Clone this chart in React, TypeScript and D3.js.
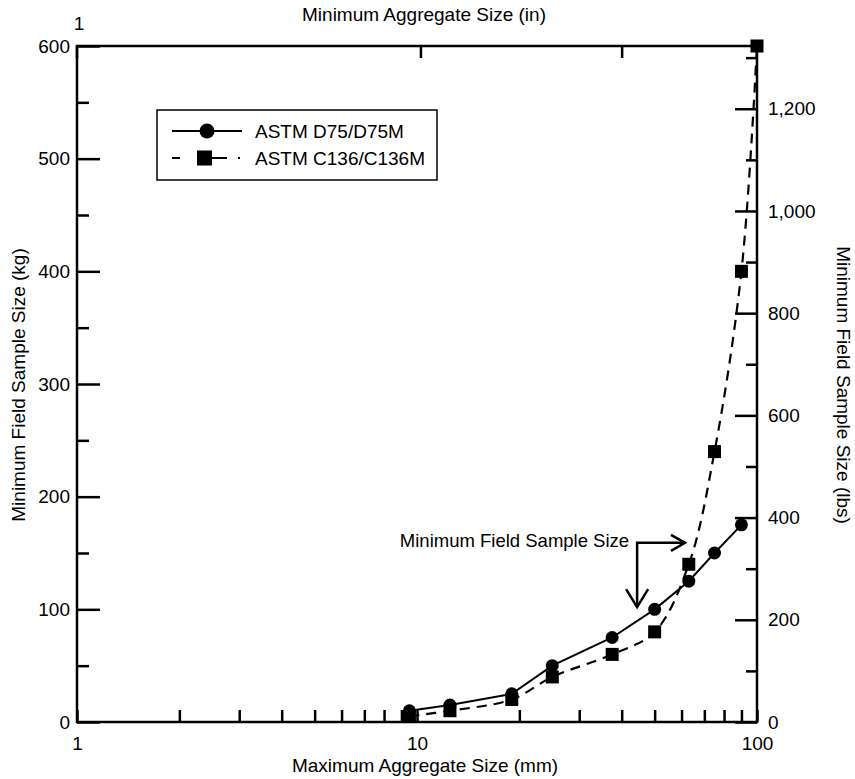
import React, { useEffect, useRef } from 'react'
import * as d3 from 'd3'

// aggregate sizes (mm) and minimum field sample sizes (kg)
const d75Sizes = [9.5, 12.5, 19, 25, 37.5, 50, 63, 75, 90]
const d75Mass = [10, 15, 25, 50, 75, 100, 125, 150, 175]
const c136Sizes = [9.5, 12.5, 19, 25, 37.5, 50, 63, 75, 90, 100]
const c136Mass = [5, 10, 20, 40, 60, 80, 140, 240, 400, 600]

const kgTicks = [0, 100, 200, 300, 400, 500, 600]
const kgMinor = [50, 150, 250, 350, 450, 550]
const lbTicks = [0, 200, 400, 600, 800, 1000, 1200]
const lbMinor = [100, 300, 500, 700, 900, 1100, 1300]
const mmTicks = [1, 10, 100]
const mmMinor = [2, 3, 4, 5, 6, 7, 8, 9, 20, 30, 40, 50, 60, 70, 80, 90]
const inTicks = [1, 2, 3]

const seriesNames = ['ASTM D75/D75M', 'ASTM C136/C136M']
const annotationText = 'Minimum Field Sample Size'
// arrow corner, down tip, right tip in data units (mm, kg)
const arrowCorner = [44.4, 159]
const arrowDown = [44.4, 102]
const arrowRight = [61.4, 159]

const W = 855
const H = 779
const margin = { top: 46, right: 98, bottom: 57, left: 77 }
const FONT = 'Liberation Sans, Arial, sans-serif'

export default function App() {
  const ref = useRef<SVGSVGElement>(null)

  useEffect(() => {
    const svg = d3.select(ref.current)
    svg.selectAll('*').remove()

    const x0 = margin.left
    const x1 = W - margin.right
    const y0 = H - margin.bottom
    const y1 = margin.top

    const x = d3.scaleLog().domain([1, 100]).range([x0, x1])
    const xIn = d3.scaleLog().domain([1, 100 / 25.4]).range([x0, x1])
    const y = d3.scaleLinear().domain([0, 600]).range([y0, y1])
    const yLb = d3.scaleLinear().domain([0, 600 * 2.20462]).range([y0, y1])

    const g = svg.append('g')
    const axisStyle = (sel: any) => {
      sel.select('.domain').remove()
      sel.selectAll('line').attr('stroke', '#000').attr('stroke-width', 2.5)
      sel.selectAll('text').attr('font-family', FONT).attr('font-size', 19).attr('fill', '#000')
    }

    // frame
    g.append('rect').attr('x', x0).attr('y', y1).attr('width', x1 - x0).attr('height', y0 - y1)
      .attr('fill', 'none').attr('stroke', '#000').attr('stroke-width', 2.5)

    // bottom axis
    g.append('g').attr('transform', `translate(0,${y0})`)
      .call(d3.axisTop(x).tickValues(mmTicks).tickSize(12).tickFormat(d3.format('d')))
      .call(axisStyle)
      .call(s => s.selectAll('text').attr('y', 15).attr('dy', '0.71em'))
    g.append('g').attr('transform', `translate(0,${y0})`)
      .call(d3.axisTop(x).tickValues(mmMinor).tickSize(12).tickFormat(() => ''))
      .call(axisStyle)

    // top axis (inches)
    const topAxis = g.append('g').attr('transform', `translate(0,${y1})`)
    inTicks.forEach(d => {
      topAxis.append('line')
        .attr('x1', xIn(d)).attr('x2', xIn(d)).attr('y1', 0).attr('y2', 12)
        .attr('stroke', '#000').attr('stroke-width', 2.5)
    })
    topAxis.append('text').text(String(inTicks[0])).attr('x', xIn(inTicks[0]) + 2).attr('y', -23)
      .attr('text-anchor', 'middle').attr('dominant-baseline', 'central')
      .attr('font-family', FONT).attr('font-size', 19)

    // left axis
    g.append('g').attr('transform', `translate(${x0},0)`)
      .call(d3.axisRight(y).tickValues(kgTicks).tickSize(23))
      .call(axisStyle)
      .call(s => s.selectAll('text').attr('x', -7).attr('text-anchor', 'end'))
    g.append('g').attr('transform', `translate(${x0},0)`)
      .call(d3.axisRight(y).tickValues(kgMinor).tickSize(12).tickFormat(() => ''))
      .call(axisStyle)

    // right axis (lbs)
    g.append('g').attr('transform', `translate(${x1},0)`)
      .call(d3.axisLeft(yLb).tickValues(lbTicks).tickSize(22).tickFormat(d3.format(',')))
      .call(axisStyle)
      .call(s => s.selectAll('text').attr('x', 11).attr('text-anchor', 'start'))
    g.append('g').attr('transform', `translate(${x1},0)`)
      .call(d3.axisLeft(yLb).tickValues(lbMinor.filter(v => yLb(v) > y1)).tickSize(11).tickFormat(() => ''))
      .call(axisStyle)

    // titles
    const title = (t: string, tx: number, ty: number, rot: number) =>
      svg.append('text').text(t).attr('font-family', FONT).attr('font-size', 19)
        .attr('text-anchor', 'middle').attr('dominant-baseline', 'central')
        .attr('transform', `translate(${tx},${ty}) rotate(${rot})`)
    title('Maximum Aggregate Size (mm)', 425, 765, 0)
    title('Minimum Aggregate Size (in)', 424, 14, 0)
    title('Minimum Field Sample Size (kg)', 18, 385, -90)
    title('Minimum Field Sample Size (lbs)', 843, 385, 90)

    // series
    const d75 = d75Sizes.map((s, i) => [s, d75Mass[i]] as [number, number])
    const c136 = c136Sizes.map((s, i) => [s, c136Mass[i]] as [number, number])

    const lineLin = d3.line<[number, number]>().x(d => x(d[0])).y(d => y(d[1]))
    const lineSmooth = d3.line<[number, number]>().x(d => x(d[0])).y(d => y(d[1])).curve(d3.curveCatmullRom)

    g.append('path').datum(c136).attr('d', lineSmooth).attr('fill', 'none')
      .attr('stroke', '#000').attr('stroke-width', 2.2).attr('stroke-dasharray', '10,7')
    g.append('path').datum(d75).attr('d', lineLin).attr('fill', 'none')
      .attr('stroke', '#000').attr('stroke-width', 2)

    g.selectAll('.sq').data(c136).join('rect')
      .attr('x', d => x(d[0]) - 6.5).attr('y', d => y(d[1]) - 6.5)
      .attr('width', 13).attr('height', 13).attr('fill', '#000')
    g.selectAll('.ci').data(d75).join('circle')
      .attr('cx', d => x(d[0])).attr('cy', d => y(d[1])).attr('r', 6.5).attr('fill', '#000')

    // legend
    const lg = svg.append('g').attr('transform', 'translate(157,110)')
    lg.append('rect').attr('width', 280).attr('height', 70).attr('fill', '#fff')
      .attr('stroke', '#000').attr('stroke-width', 1.5)
    seriesNames.forEach((name, i) => {
      const ly = 21 + i * 27
      lg.append('line').attr('x1', 15).attr('x2', 85).attr('y1', ly).attr('y2', ly)
        .attr('stroke', '#000').attr('stroke-width', 2)
        .attr('stroke-dasharray', i === 0 ? null : '8,17,30,11,2,20')
      if (i === 0) lg.append('circle').attr('cx', 50).attr('cy', ly).attr('r', 7.5).attr('fill', '#000')
      else lg.append('rect').attr('x', 40).attr('y', ly - 7.5).attr('width', 15).attr('height', 15).attr('fill', '#000')
      lg.append('text').text(name).attr('x', 98).attr('y', ly).attr('dominant-baseline', 'central')
        .attr('font-family', FONT).attr('font-size', 19)
    })

    // annotation
    const cx = x(arrowCorner[0]), cy = y(arrowCorner[1])
    const dx = x(arrowDown[0]), dy = y(arrowDown[1])
    const rx = x(arrowRight[0]), ry = y(arrowRight[1])
    const ann = g.append('g').attr('fill', 'none').attr('stroke', '#000').attr('stroke-width', 2.5)
    ann.append('path').attr('d', `M${rx},${ry}L${cx},${cy}L${dx},${dy}`)
    ann.append('path').attr('d', `M${dx - 11},${dy - 18}L${dx},${dy}L${dx + 11},${dy - 18}`)
    ann.append('path').attr('d', `M${rx - 14},${ry - 8}L${rx},${ry}L${rx - 14},${ry + 8}`)
    g.append('text').text(annotationText).attr('x', cx - 8).attr('y', cy - 2)
      .attr('text-anchor', 'end').attr('dominant-baseline', 'central')
      .attr('font-family', FONT).attr('font-size', 18.5)
  }, [])

  return (
    <svg ref={ref} width={W} height={H} style={{ position: 'absolute', left: 0, top: 0, background: '#fff' }} />
  )
}
